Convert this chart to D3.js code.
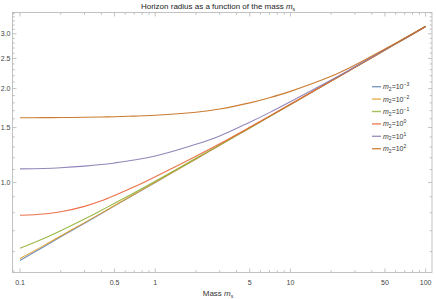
<!DOCTYPE html>
<html><head><meta charset="utf-8">
<script src="https://cdn.jsdelivr.net/npm/d3@7"></script>
<style>
body{margin:0;background:#fff;}
text{font-family:"Liberation Sans",Arial,sans-serif;}
</style></head>
<body>
<svg id="c" width="436" height="299"></svg>
<script>
const mass = [0.1,0.15,0.2,0.3,0.4,0.5,0.7,1,2,3,5,7,10,20,30,50,70,100];
const rM3 = [0.562,0.622,0.669,0.740,0.795,0.841,0.915,1.000,1.189,1.316,1.495,1.627,1.778,2.115,2.340,2.659,2.893,3.165];
const rM2 = [0.570,0.627,0.673,0.743,0.797,0.843,0.916,1.001,1.189,1.316,1.495,1.627,1.778,2.115,2.340,2.659,2.893,3.165];
const rM1 = [0.615,0.661,0.700,0.763,0.814,0.857,0.927,1.009,1.195,1.320,1.497,1.628,1.779,2.116,2.340,2.659,2.893,3.165];
const rP0 = [0.785,0.792,0.805,0.838,0.873,0.908,0.968,1.043,1.213,1.330,1.503,1.632,1.782,2.117,2.341,2.660,2.893,3.165];
const rP1 = [1.105,1.109,1.115,1.128,1.141,1.155,1.180,1.215,1.325,1.410,1.560,1.675,1.815,2.130,2.350,2.665,2.897,3.166];
const rP2 = [1.613,1.614,1.615,1.618,1.621,1.625,1.632,1.642,1.680,1.720,1.800,1.870,1.960,2.190,2.380,2.680,2.905,3.170];
const exps = ["-3","-2","-1","0","1","2"];
const colors = ["#5E81B5","#E19C24","#8FB032","#EB6235","#8778B3","#C56E1A"];
const seriesVals = [rM3,rM2,rM1,rP0,rP1,rP2];
const xMajor = [0.1,0.5,1,5,10,50,100];
const xMajorLabels = ["0.1","0.5","1","5","10","50","100"];
const yMajor = [1.0,1.5,2.0,2.5,3.0];
const yMajorLabels = ["1.0","1.5","2.0","2.5","3.0"];

const L=12.5,R=432,T=12.5,B=272.5;
const x = d3.scaleLog().domain([0.088,111.5]).range([L,R]);
const y = d3.scaleLog().domain([0.514,3.51]).range([B,T]);
const svg = d3.select("#c");
const axisCol="#b4b4b4", labCol="#444";

const xMinor=[];
[0.01,0.1,1,10].forEach(d=>{for(let k=1;k<10;k++){const v=d*k; if(v>=0.088&&v<=111.5&&!xMajor.some(m=>Math.abs(m-v)<1e-9)) xMinor.push(v);}});
const yMinor=[];
for(let v=0.6;v<=3.5001;v+=0.1){const vv=Math.round(v*10)/10; if(!yMajor.some(m=>Math.abs(m-vv)<1e-9)) yMinor.push(vv);}

const g=svg.append("g");
g.append("rect").attr("x",L).attr("y",T).attr("width",R-L).attr("height",B-T)
 .attr("fill","none").attr("stroke",axisCol).attr("stroke-width",0.8);
function tickX(vals,len){vals.forEach(v=>{const px=x(v);
 g.append("line").attr("x1",px).attr("x2",px).attr("y1",B).attr("y2",B-len).attr("stroke",axisCol).attr("stroke-width",0.8);
 g.append("line").attr("x1",px).attr("x2",px).attr("y1",T).attr("y2",T+len).attr("stroke",axisCol).attr("stroke-width",0.8);});}
function tickY(vals,len){vals.forEach(v=>{const py=y(v);
 g.append("line").attr("y1",py).attr("y2",py).attr("x1",L).attr("x2",L+len).attr("stroke",axisCol).attr("stroke-width",0.8);
 g.append("line").attr("y1",py).attr("y2",py).attr("x1",R).attr("x2",R-len).attr("stroke",axisCol).attr("stroke-width",0.8);});}
tickX(xMajor,4); tickX(xMinor,2.3); tickY(yMajor,4); tickY(yMinor,2.3);

xMajor.forEach((v,i)=>g.append("text").attr("x",x(v)).attr("y",284.5).attr("text-anchor","middle")
 .attr("font-size",7).attr("fill",labCol).text(xMajorLabels[i]));
yMajor.forEach((v,i)=>g.append("text").attr("x",10.5).attr("y",y(v)+2.5).attr("text-anchor","end")
 .attr("font-size",7).attr("fill",labCol).text(yMajorLabels[i]));

const line=d3.line().x(d=>x(d[0])).y(d=>y(d[1])).curve(d3.curveCatmullRom.alpha(0.5));
seriesVals.forEach((vals,i)=>{
 svg.append("path").datum(mass.map((m,j)=>[m,vals[j]])).attr("d",line)
  .attr("fill","none").attr("stroke",colors[i]).attr("stroke-width",1.1).attr("stroke-opacity",0.9);
});

const t=svg.append("text").attr("x",218).attr("y",9).attr("text-anchor","middle").attr("font-size",8).attr("fill","#222");
t.append("tspan").text("Horizon radius as a function of the mass ");
t.append("tspan").attr("font-style","italic").text("m");
t.append("tspan").attr("font-size",5).attr("dy",1.5).text("s");

const xl=svg.append("text").attr("x",218).attr("y",296).attr("text-anchor","middle").attr("font-size",8).attr("fill","#333");
xl.append("tspan").text("Mass ");
xl.append("tspan").attr("font-style","italic").text("m");
xl.append("tspan").attr("font-size",5).attr("dy",1.5).text("s");

const lg=svg.append("g");
exps.forEach((e,i)=>{
 const yy=86.7+i*12.4;
 lg.append("line").attr("x1",372).attr("x2",381).attr("y1",yy).attr("y2",yy).attr("stroke",colors[i]).attr("stroke-width",1.4).attr("stroke-opacity",0.8);
 const tx=lg.append("text").attr("x",383).attr("y",yy+2.5).attr("font-size",7).attr("fill","#333");
 tx.append("tspan").attr("font-style","italic").text("m");
 tx.append("tspan").attr("font-size",5).attr("dy",1.5).text("2");
 tx.append("tspan").attr("dy",-1.5).text("=10");
 tx.append("tspan").attr("font-size",5).attr("dy",-3).text(e.startsWith("-") ? "\u2212"+e.slice(1) : e);
});
</script>
</body></html>
